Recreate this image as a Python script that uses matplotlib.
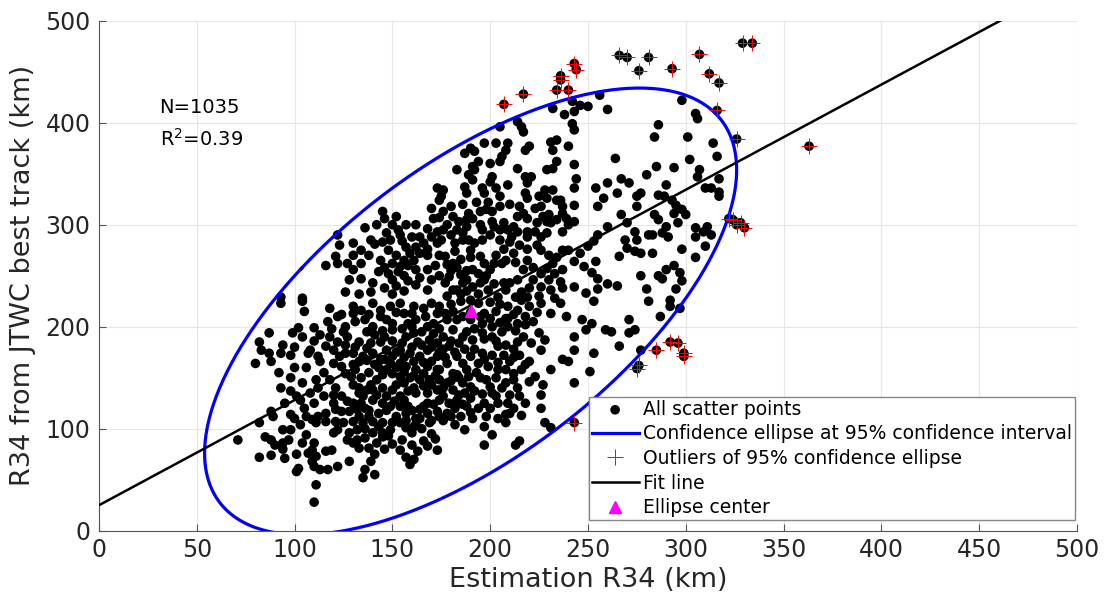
import numpy as np
import matplotlib.pyplot as plt

plt.rcParams['font.family'] = ['DejaVu Sans']
plt.rcParams['mathtext.default'] = 'regular'

# scatter points (estimation R34, JTWC R34), read off the figure by region
cloud_upper_left = [
    (173, 336), (174, 324), (170, 316), (171, 306), (174, 307), (145, 313), (146, 306), (152, 308),
    (153, 295), (154, 290), (136, 297), (122, 290), (123, 280), (130, 282), (139, 285), (141, 281),
    (145, 283), (149, 285), (147, 292), (121, 269), (122, 262), (116, 260), (126, 234), (128, 246),
    (134, 247), (140, 243), (143, 254), (144, 265), (150, 246), (153, 254), (154, 259), (159, 272),
    (162, 278), (164, 288), (166, 282), (168, 270), (173, 282), (173, 293), (161, 265), (162, 256),
    (168, 256), (168, 236), (162, 241), (150, 232), (139, 234), (133, 232), (93, 229), (104, 228),
]
cloud_upper_right = [
    (256, 427), (242, 421), (246, 417), (250, 416), (232, 414), (238, 408), (243, 411), (260, 413),
    (242, 399), (243, 393), (214, 401), (216, 396), (217, 391), (205, 396), (197, 380), (203, 380),
    (209, 380), (208, 373), (206, 367), (205, 362), (190, 375), (192, 372), (187, 370), (194, 362),
    (191, 357), (192, 354), (189, 349), (183, 354), (187, 337), (191, 344), (200, 360), (201, 347),
    (200, 342), (203, 336), (209, 339), (196, 336), (197, 331), (205, 328), (188, 331), (231, 381),
    (234, 383), (232, 373), (240, 377), (220, 377), (218, 373), (234, 362), (229, 354), (232, 355),
    (243, 359), (214, 355), (218, 347), (221, 347), (219, 341), (244, 345), (228, 334), (232, 334),
    (218, 331), (219, 326), (229, 326), (234, 324), (243, 336), (254, 336), (258, 326), (264, 365),
    (267, 345), (271, 341), (265, 331), (277, 331), (275, 328), (280, 349), (285, 357), (260, 341),
    (286, 398), (284, 386), (301, 386), (298, 422), (305, 409), (306, 404), (314, 380), (316, 367),
    (302, 364), (294, 356), (307, 354), (306, 347), (317, 345), (310, 336), (313, 336), (317, 332),
    (317, 328), (290, 339), (286, 329), (289, 328), (293, 324), (295, 319), (298, 315), (294, 311),
    (300, 310), (284, 310), (286, 305), (296, 302), (305, 297), (311, 298), (309, 293), (305, 288),
    (313, 290), (310, 279), (305, 268), (298, 276), (291, 288), (288, 292), (290, 298), (283, 290),
    (281, 290), (274, 293), (275, 285), (269, 285), (270, 277), (274, 274), (277, 272), (283, 272),
    (267, 310), (270, 302), (275, 318), (260, 298), (255, 290), (253, 284), (250, 279), (254, 264),
    (248, 259), (266, 269), (277, 250), (280, 237), (286, 250), (290, 256), (294, 260), (297, 253),
    (298, 245), (295, 237), (288, 247), (265, 240), (260, 242), (255, 247), (252, 253), (255, 237),
    (249, 233), (243, 303), (243, 319), (237, 318), (237, 311), (239, 306), (240, 300), (237, 293),
    (234, 305), (231, 302), (229, 303), (230, 310), (227, 308), (236, 324), (226, 318), (223, 316),
    (225, 328), (224, 302), (219, 306), (217, 311), (214, 308), (212, 298), (211, 288), (214, 293),
    (219, 293), (219, 288), (223, 293), (226, 288), (229, 292), (224, 280), (237, 275), (240, 275),
    (246, 272), (243, 264), (237, 256), (232, 262), (233, 252), (229, 257), (226, 252), (230, 246),
    (226, 239), (231, 236), (237, 238), (243, 239), (219, 265), (217, 256), (214, 246), (210, 243),
    (207, 243), (208, 236), (204, 229), (213, 229), (219, 229), (202, 262), (206, 262), (208, 265),
    (200, 256), (197, 246), (195, 243), (191, 256), (188, 246), (191, 239), (186, 243), (185, 232),
    (181, 236), (195, 269), (190, 275), (192, 282), (189, 285), (186, 285), (182, 282), (182, 274),
    (177, 269), (178, 261), (181, 262), (185, 251), (179, 249), (177, 243), (175, 285), (176, 295),
    (183, 295), (188, 298), (191, 306), (189, 311), (195, 313), (198, 315), (201, 313), (207, 302),
    (205, 295), (209, 295), (201, 303), (181, 308), (176, 313), (175, 328), (176, 334), (255, 318),
]
cloud_lower_left = [
    (93, 223), (104, 225), (105, 215), (118, 218), (117, 205), (122, 210), (124, 212), (130, 213),
    (130, 220), (134, 216), (136, 207), (131, 205), (140, 223), (144, 216), (149, 220), (154, 223),
    (156, 213), (161, 220), (166, 218), (170, 223), (173, 213), (147, 207), (150, 197), (158, 203),
    (162, 207), (168, 200), (171, 203), (161, 194), (157, 190), (163, 185), (169, 187), (173, 184),
    (168, 177), (173, 171), (164, 171), (159, 174), (154, 177), (150, 171), (147, 177), (144, 185),
    (139, 184), (137, 179), (140, 174), (144, 168), (149, 164), (154, 164), (157, 161), (162, 158),
    (168, 161), (173, 158), (169, 148), (164, 148), (159, 150), (154, 151), (150, 154), (145, 153),
    (142, 148), (139, 143), (140, 138), (145, 140), (150, 138), (154, 132), (158, 137), (162, 135),
    (168, 135), (173, 138), (174, 128), (168, 125), (164, 119), (162, 110), (173, 117), (158, 122),
    (154, 122), (149, 122), (145, 125), (140, 128), (135, 132), (133, 140), (130, 143), (129, 151),
    (126, 154), (124, 161), (130, 163), (133, 166), (135, 171), (130, 174), (126, 174), (123, 171),
    (120, 177), (116, 181), (112, 171), (113, 166), (108, 177), (107, 174), (127, 190), (125, 195),
    (120, 164), (111, 148), (118, 148), (121, 140), (120, 133), (115, 132), (124, 132), (127, 127),
    (120, 125), (121, 119), (124, 117), (128, 117), (132, 119), (136, 120), (130, 125), (116, 115),
    (112, 112), (109, 109), (106, 112), (111, 106), (116, 107), (121, 107), (125, 106), (130, 107),
    (133, 112), (138, 112), (140, 107), (145, 106), (135, 106), (132, 99), (128, 96), (122, 99),
    (120, 96), (127, 89), (132, 89), (136, 91), (140, 96), (145, 96), (149, 99), (150, 106),
    (154, 106), (157, 101), (155, 89), (154, 79), (161, 102), (164, 110), (168, 115), (169, 106),
    (173, 79), (161, 70), (159, 65), (145, 92), (142, 86), (138, 81), (133, 81), (130, 86),
    (141, 75), (139, 68), (136, 60), (135, 52), (141, 55), (128, 68), (122, 63), (117, 60),
    (113, 60), (110, 63), (109, 68), (111, 73), (107, 76), (102, 61), (101, 58), (116, 78),
    (119, 79), (111, 45), (110, 28), (109, 79), (104, 86), (110, 86), (106, 94), (103, 104),
    (98, 99), (97, 89), (101, 75), (94, 80), (95, 71), (88, 74), (82, 72), (94, 86),
    (90, 84), (88, 89), (85, 92), (94, 99), (98, 114), (103, 128), (101, 132), (98, 137),
    (89, 112), (88, 117), (82, 106), (71, 89), (80, 164), (83, 177), (82, 185), (87, 174),
    (88, 166), (93, 174), (94, 182), (98, 172), (87, 194), (99, 194), (102, 199), (110, 199),
]
cloud_lower_right = [
    (174, 220), (178, 207), (181, 197), (176, 190), (179, 181), (183, 171), (178, 164), (174, 158),
    (181, 154), (178, 145), (181, 138), (176, 132), (179, 125), (183, 128), (187, 135), (190, 130),
    (188, 122), (180, 112), (178, 115), (191, 110), (187, 99), (197, 102), (201, 94), (197, 84),
    (213, 84), (215, 88), (208, 106), (208, 114), (204, 125), (200, 120), (197, 125), (201, 135),
    (190, 141), (186, 145), (183, 153), (189, 151), (195, 150), (200, 141), (204, 158), (199, 161),
    (194, 164), (190, 171), (186, 164), (196, 174), (201, 172), (204, 181), (201, 190), (196, 194),
    (191, 187), (186, 190), (183, 207), (190, 207), (196, 203), (201, 200), (206, 195), (209, 200),
    (208, 208), (203, 215), (197, 213), (194, 223), (209, 220), (216, 226), (214, 216), (214, 203),
    (218, 202), (214, 185), (221, 184), (225, 194), (228, 187), (226, 177), (220, 166), (215, 172),
    (210, 166), (208, 158), (212, 154), (215, 132), (210, 133), (209, 125), (220, 146), (223, 151),
    (227, 143), (226, 133), (226, 120), (228, 106), (231, 101), (231, 158), (237, 168), (240, 166),
    (243, 177), (243, 190), (247, 207), (252, 203), (249, 197), (253, 174), (251, 156), (243, 145),
    (236, 223), (239, 210), (226, 223), (231, 213), (259, 197), (262, 195), (266, 181), (271, 207),
    (274, 197), (271, 194), (277, 177), (281, 225), (292, 226), (297, 218), (287, 210), (292, 220),
    (253, 225),
]
# points hidden in the solid black core, placed where the reference is filled
core_low = [
    (136, 100), (143, 102), (148, 93), (152, 112), (157, 115), (160, 96), (165, 100), (170, 95),
    (166, 88), (160, 84), (150, 85), (146, 80), (157, 72), (163, 78), (168, 83), (172, 90),
    (134, 125), (138, 118), (143, 115), (147, 118), (151, 127), (156, 128), (160, 118), (166, 122),
    (171, 124), (174, 112), (170, 108), (162, 104), (157, 108), (133, 135), (137, 138), (142, 133),
    (147, 132), (152, 143), (156, 145), (161, 140), (166, 142), (170, 143), (174, 148), (172, 152),
    (166, 154), (161, 152), (156, 156), (152, 160), (147, 158), (143, 160), (138, 155), (134, 150),
    (131, 158), (137, 167), (141, 163), (146, 168), (152, 175), (156, 170), (161, 166), (166, 165),
    (170, 166), (174, 175), (170, 180), (165, 182), (160, 180), (155, 184), (150, 186), (146, 190),
    (141, 192), (137, 195), (133, 185), (131, 180), (126, 182), (122, 185), (118, 190), (140, 200),
    (145, 196), (150, 203), (155, 198), (160, 200), (165, 195), (171, 193), (174, 198), (167, 210),
    (160, 213), (152, 214), (144, 210), (138, 212), (126, 200), (119, 198), (113, 192),
]
core_mid = [
    (176, 108), (182, 104), (185, 112), (190, 116), (194, 120), (198, 112), (204, 110), (210, 115),
    (212, 120), (216, 113), (218, 125), (214, 140), (206, 140), (203, 132), (196, 134), (192, 137),
    (184, 133), (186, 124), (182, 120), (176, 140), (180, 147), (184, 150), (188, 158), (193, 155),
    (198, 148), (203, 150), (208, 145), (212, 148), (216, 158), (218, 163), (212, 170), (207, 172),
    (204, 165), (197, 168), (192, 178), (187, 178), (182, 175), (177, 170), (176, 178), (180, 186),
    (184, 184), (188, 195), (192, 198), (197, 188), (203, 186), (208, 182), (212, 178), (217, 190),
    (213, 196), (209, 208), (205, 204), (200, 208), (195, 210), (190, 214), (186, 210), (181, 215),
    (177, 213), (180, 222), (185, 225), (190, 226), (200, 224), (205, 222), (212, 212), (218, 210),
    (222, 205), (224, 214), (220, 220),
]
core_high = [
    (178, 230), (183, 236), (188, 235), (194, 232), (199, 236), (202, 242), (198, 250), (194, 252),
    (188, 255), (183, 258), (180, 255), (185, 266), (190, 268), (197, 262), (203, 270), (207, 276),
    (212, 272), (215, 280), (210, 283), (205, 285), (200, 290), (196, 295), (196, 285), (186, 292),
    (180, 290), (178, 300), (184, 303), (188, 305), (195, 300), (202, 298), (213, 263), (222, 258),
    (222, 246), (220, 238), (216, 234), (225, 230), (233, 228), (236, 244), (234, 268), (230, 270),
    (226, 275), (219, 276), (215, 318), (210, 320), (205, 318), (199, 322), (193, 322), (186, 320),
    (180, 318), (146, 238), (152, 240), (156, 235), (158, 245), (156, 250), (148, 252), (146, 258),
    (150, 262), (156, 265), (158, 260), (164, 248), (170, 246), (174, 250), (172, 260), (174, 270),
    (168, 276), (164, 272), (157, 278), (152, 270), (148, 275), (155, 284), (160, 288), (170, 288),
    (168, 296), (162, 300), (157, 300), (150, 300), (142, 300), (138, 270), (134, 262), (130, 256),
    (127, 262), (130, 270), (134, 275),
]
cloud_left_extra = [
    (100, 110), (105, 120), (110, 125), (95, 125), (108, 135), (112, 140), (104, 145), (98, 150),
    (92, 155), (100, 160), (106, 160), (115, 155), (93, 140), (104, 190), (110, 186), (100, 180),
]
outliers = [
    (207, 418), (217, 428), (234, 432), (236, 442), (236, 446), (240, 432), (243, 458), (244, 452),
    (266, 466), (270, 464), (281, 464), (276, 451), (293, 453), (307, 467), (312, 448), (317, 439),
    (316, 412), (329, 478), (334, 478), (326, 384), (363, 377), (324, 305), (326, 300), (322, 306),
    (328, 302), (330, 297), (276, 162), (275, 159), (285, 177), (292, 185), (296, 184), (299, 174),
    (299, 171), (243, 106),
]

n_points = 1035
r2 = 0.39
fit_slope = 1.031
fit_intercept = 25.0
ell_center = (190, 215)
ell_cov = [[18496, 18900], [18900, 47961]]  # already scaled to the 95% level

pts = np.array(cloud_upper_left + cloud_upper_right + cloud_lower_left + cloud_lower_right
               + core_low + core_mid + core_high + cloud_left_extra + outliers, dtype=float)
out = np.array(outliers, dtype=float)

fig = plt.figure(figsize=(11.07, 6.08), dpi=100)
ax = fig.add_axes([0.0894, 0.1271, 0.8835, 0.8388])

ax.scatter(pts[:, 0], pts[:, 1], s=48, color='black', edgecolors='none', zorder=3,
           label='All scatter points')

# confidence ellipse
vals, vecs = np.linalg.eigh(np.array(ell_cov, dtype=float))
t = np.linspace(0, 2 * np.pi, 500)
circ = np.vstack([np.cos(t), np.sin(t)])
ell = vecs @ (np.sqrt(vals)[:, None] * circ)
ax.plot(ell_center[0] + ell[0], ell_center[1] + ell[1], color='blue', lw=2.3, zorder=4,
        label='Confidence ellipse at 95% confidence interval')

ax.plot(out[:, 0], out[:, 1], '+', color='red', ms=12, mew=0.7, zorder=5,
        label='Outliers of 95% confidence ellipse')

xf = np.array([0, 500])
ax.plot(xf, fit_intercept + fit_slope * xf, color='black', lw=1.8, zorder=6, label='Fit line')

ax.plot(ell_center[0], ell_center[1], '^', color='magenta', ms=8, mec='magenta', zorder=7,
        label='Ellipse center')

ax.set_xlim(0, 500)
ax.set_ylim(0, 500)
ax.set_xticks(np.arange(0, 501, 50))
ax.set_yticks(np.arange(0, 501, 100))
ax.grid(True, color='#e6e6e6', lw=0.8, zorder=0)
ax.set_axisbelow(True)
for side in ['top', 'right']:
    ax.spines[side].set_visible(False)
for side in ['left', 'bottom']:
    ax.spines[side].set_color('#555555')
    ax.spines[side].set_linewidth(0.8)
ax.tick_params(direction='in', length=5, width=0.8, color='#555555', labelsize=17,
               labelcolor='#262626')
ax.tick_params(axis='x', pad=5)
ax.tick_params(axis='y', pad=6)

ax.set_xlabel('Estimation R34 (km)', fontsize=19.5, color='#262626', labelpad=4)
ax.set_ylabel('R34 from JTWC best track (km)', fontsize=19.5, color='#262626', labelpad=7)

ax.text(31, 409.5, 'N=%d' % n_points, fontsize=14, va='baseline', color='black')
ax.text(31, 377, 'R$^2$=%.2f' % r2, fontsize=14, va='baseline', color='black')

leg = ax.legend(loc='lower right', bbox_to_anchor=(0.998, 0.021), fontsize=13.5, frameon=True,
                fancybox=False, edgecolor='#888888', framealpha=1, borderaxespad=0,
                handlelength=2.5, handletextpad=0.25, labelspacing=0.3, borderpad=0.15)
leg.get_frame().set_linewidth(1.0)

fig.savefig('out.png', dpi=100)
